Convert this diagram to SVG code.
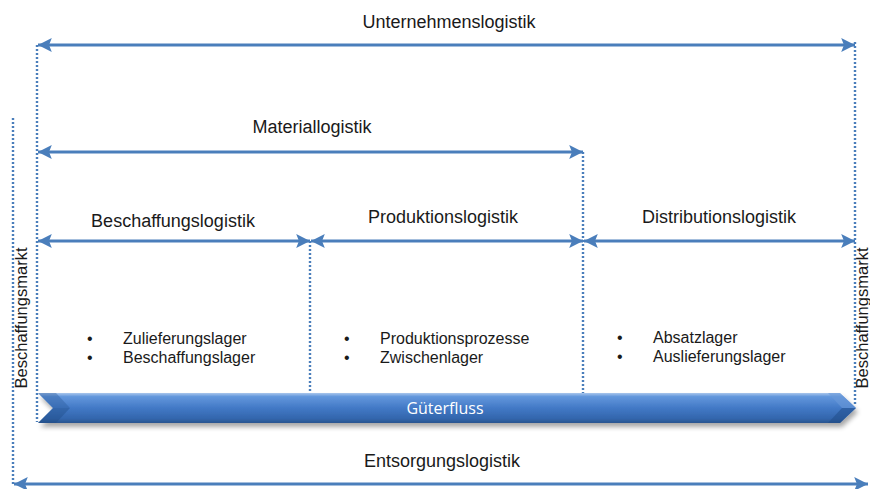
<svg xmlns="http://www.w3.org/2000/svg" width="870" height="489" viewBox="0 0 870 489">
  <defs>
    <marker id="ah" viewBox="0 0 10 10" refX="10" refY="5" markerWidth="5.2" markerHeight="4.6" orient="auto-start-reverse" markerUnits="strokeWidth">
      <path d="M0,0 L10,5 L0,10 L2,5 Z" fill="#4a7ebb"/>
    </marker>
    <linearGradient id="tube" x1="0" y1="0" x2="0" y2="1">
      <stop offset="0" stop-color="#a9c6ec"/>
      <stop offset="0.12" stop-color="#6397dc"/>
      <stop offset="0.5" stop-color="#4279c6"/>
      <stop offset="0.85" stop-color="#3366ad"/>
      <stop offset="1" stop-color="#28548f"/>
    </linearGradient>
    <filter id="shadow" x="-5%" y="-30%" width="110%" height="180%">
      <feGaussianBlur in="SourceAlpha" stdDeviation="2.5"/>
      <feOffset dx="2" dy="4"/>
      <feComponentTransfer><feFuncA type="linear" slope="0.35"/></feComponentTransfer>
      <feMerge><feMergeNode/><feMergeNode in="SourceGraphic"/></feMerge>
    </filter>
    <style>
      .arr { stroke: #4a7ebb; stroke-width: 3; fill: none; marker-start: url(#ah); marker-end: url(#ah); }
      .dot { stroke: #4a7ebb; stroke-width: 2.4; stroke-dasharray: 2 2; fill: none; }
      .lbl { font-family: "Liberation Sans", Arial, sans-serif; font-size: 18px; fill: #1a1a1a; text-anchor: middle; }
      .item { font-family: "Liberation Sans", Arial, sans-serif; font-size: 16px; fill: #1a1a1a; }
      .side { font-family: "Liberation Sans", Arial, sans-serif; font-size: 16.5px; fill: #1a1a1a; text-anchor: middle; }
    </style>
  </defs>

  <!-- dotted boundary lines -->
  <g id="boundaries">
    <line class="dot" x1="13" y1="118" x2="13" y2="484"/>
    <line class="dot" x1="37" y1="45" x2="37" y2="422"/>
    <line class="dot" x1="310" y1="241" x2="310" y2="393"/>
    <line class="dot" x1="583" y1="152" x2="583" y2="393"/>
    <line class="dot" x1="855" y1="42" x2="855" y2="404"/>
  </g>

  <!-- span arrows -->
  <g id="connectors">
    <line class="arr" x1="38" y1="45" x2="855" y2="45"/>
    <line class="arr" x1="38" y1="152" x2="583" y2="152"/>
    <line class="arr" x1="38" y1="241" x2="310" y2="241"/>
    <line class="arr" x1="311" y1="241" x2="583" y2="241"/>
    <line class="arr" x1="584" y1="241" x2="855" y2="241"/>
    <line class="arr" x1="14" y1="484" x2="868" y2="484"/>
  </g>

  <g id="unternehmenslogistik">
    <text class="lbl" x="449" y="28">Unternehmenslogistik</text>
  </g>
  <g id="materiallogistik">
    <text class="lbl" x="312" y="133">Materiallogistik</text>
  </g>
  <g id="beschaffungslogistik">
    <text class="lbl" x="173" y="227">Beschaffungslogistik</text>
    <text class="item" x="87" y="344">•</text>
    <text class="item" x="123" y="344">Zulieferungslager</text>
    <text class="item" x="87" y="363">•</text>
    <text class="item" x="123" y="363">Beschaffungslager</text>
  </g>
  <g id="produktionslogistik">
    <text class="lbl" x="443" y="223">Produktionslogistik</text>
    <text class="item" x="344" y="344">•</text>
    <text class="item" x="380" y="344">Produktionsprozesse</text>
    <text class="item" x="344" y="363">•</text>
    <text class="item" x="380" y="363">Zwischenlager</text>
  </g>
  <g id="distributionslogistik">
    <text class="lbl" x="719" y="223">Distributionslogistik</text>
    <text class="item" x="617" y="343">•</text>
    <text class="item" x="653" y="343">Absatzlager</text>
    <text class="item" x="617" y="362">•</text>
    <text class="item" x="653" y="362">Auslieferungslager</text>
  </g>
  <g id="entsorgungslogistik">
    <text class="lbl" x="442" y="467">Entsorgungslogistik</text>
  </g>

  <g id="beschaffungsmarkt-links">
    <text class="side" transform="translate(27,318) rotate(-90)">Beschaffungsmarkt</text>
  </g>
  <g id="beschaffungsmarkt-rechts">
    <text class="side" transform="translate(868,318) rotate(-90)">Beschaffungsmarkt</text>
  </g>

  <!-- goods flow tube -->
  <g id="gueterfluss">
    <path d="M38,393 L840,393 L856,408 L840,423 L38,423 L53,408 Z" fill="url(#tube)" filter="url(#shadow)"/>
    <path d="M38,393 L56,393 L70,408 L53,408 Z" fill="#2a5a9c" opacity="0.4"/>
    <path d="M53,408 L70,408 L56,423 L38,423 Z" fill="#1e4a85" opacity="0.4"/>
    <path d="M828,393 L840,393 L856,408 L842,408 Z" fill="#6a9ad8" opacity="0.6"/>
    <path d="M842,408 L856,408 L840,423 L828,423 Z" fill="#1e4a85" opacity="0.5"/>
    <text x="445" y="414" font-family="'Open Sans', 'Noto Sans', sans-serif" font-size="16" fill="#ffffff" text-anchor="middle">Güterfluss</text>
  </g>
</svg>
